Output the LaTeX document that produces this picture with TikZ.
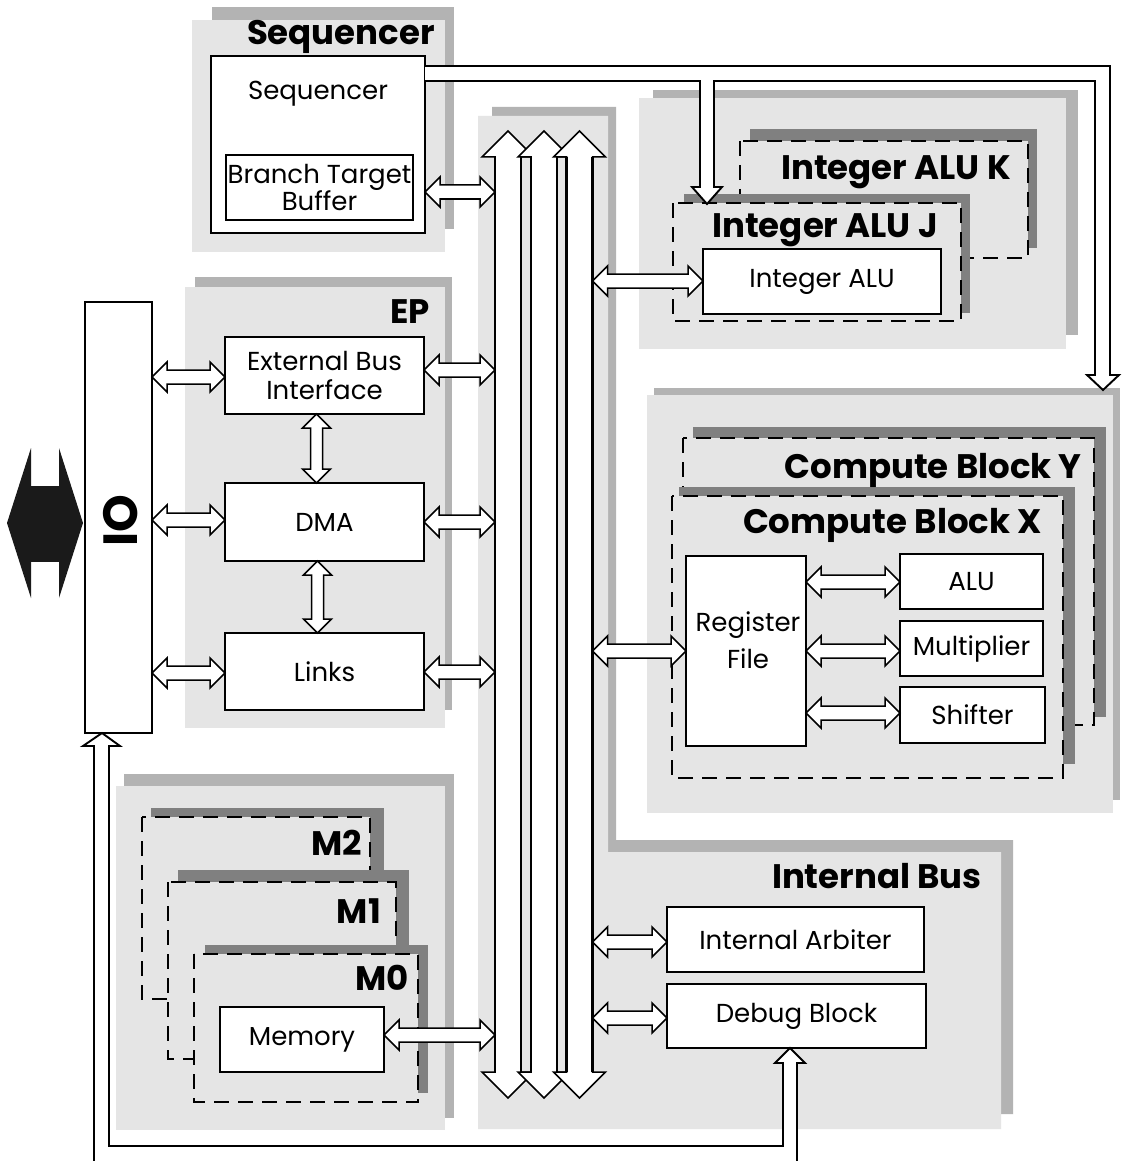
\documentclass[tikz,border=0pt]{standalone}
\usepackage{fontspec}
\setmainfont{Poppins}
\usetikzlibrary{calc}
\definecolor{lg}{RGB}{229,229,229}
\definecolor{mg}{RGB}{179,179,179}
\definecolor{dg}{RGB}{128,128,128}
\definecolor{blk}{RGB}{26,26,26}
\newcommand\fnorm{\fontsize{26}{29}\selectfont}
\newcommand\fhead{\fontsize{34}{36}\selectfont\bfseries}
\newcommand\fio{\fontsize{48}{50}\selectfont\bfseries}
\tikzset{
  panel/.style={fill=lg},
  pshadow/.style={fill=mg},
  dshadow/.style={fill=dg},
  box/.style={draw=black, line width=2pt, fill=white, inner sep=0pt, outer sep=0pt, font=\fnorm, align=center},
  dbox/.style={draw=black, fill=lg, line width=2.2pt, dash pattern=on 15pt off 9pt},
  title/.style={font=\fhead, anchor=base east, inner sep=0pt},
  lbl/.style={font=\fnorm, align=center, inner sep=0pt},
  hollow/.style={draw=black, fill=white, line width=1.5pt, line join=miter},
  pipe/.style={draw=black, fill=white, line width=1.9pt, line join=miter},
}
\newcommand\bx[7][]{\node[box,anchor=north west,minimum width={(#5-#3)*1pt},minimum height={(#6-#4)*1pt},#1] (#2) at (#3,#4) {#7};}
\newcommand\hdarrow[3]{\draw[hollow] let \p1=#1, \p2=#2 in
  (\x1,-#3pt) -- (\x1+15pt,-#3pt+15pt) -- (\x1+15pt,-#3pt+7pt) -- (\x2-15pt,-#3pt+7pt) -- (\x2-15pt,-#3pt+15pt) -- (\x2,-#3pt) -- (\x2-15pt,-#3pt-15pt) -- (\x2-15pt,-#3pt-7pt) -- (\x1+15pt,-#3pt-7pt) -- (\x1+15pt,-#3pt-15pt) -- cycle;}
\newcommand\vdarrow[2]{\draw[hollow] let \p1=#1, \p2=#2 in
  (\x1,\y1) -- (\x1+14pt,\y1-14pt) -- (\x1+6pt,\y1-14pt) -- (\x1+6pt,\y2+14pt) -- (\x1+14pt,\y2+14pt) -- (\x1,\y2) -- (\x1-14pt,\y2+14pt) -- (\x1-6pt,\y2+14pt) -- (\x1-6pt,\y1-14pt) -- (\x1-14pt,\y1-14pt) -- cycle;}
\newcommand\busarrow[1]{%
  \draw[hollow] (#1,131) -- (#1+26,157) -- (#1+13,157) -- (#1+13,1072) -- (#1+26,1072) -- (#1,1098) -- (#1-26,1072) -- (#1-13,1072) -- (#1-13,157) -- (#1-26,157) -- cycle;
  \draw[line width=2.2pt] (#1-13,157) -- (#1-13,1072) (#1+13,157) -- (#1+13,1072);}
\begin{document}
\begin{tikzpicture}[x=1pt,y=-1pt]
\useasboundingbox[fill=white] (0,0) rectangle (1121,1161);
% ---------- panels
\fill[pshadow] (212,7) rectangle (454,229);
\fill[panel] (192,20) rectangle (445,252);
\fill[pshadow] (195,277) rectangle (452,710);
\fill[panel] (185,287) rectangle (445,728);
\fill[pshadow] (124,774) rectangle (454,1118);
\fill[panel] (116,786) rectangle (445,1130);
\fill[pshadow] (653,90) rectangle (1078,335);
\fill[panel] (639,98) rectangle (1066,349);
\fill[pshadow] (654,388) rectangle (1120,800);
\fill[panel] (647,395) rectangle (1113,813);
\fill[pshadow] (492,107) -- (616,107) -- (616,840) -- (1013,840) -- (1013,1114) -- (492,1114) -- cycle;
\fill[panel] (478,116) -- (608,116) -- (608,852) -- (1001,852) -- (1001,1129) -- (478,1129) -- cycle;
% ---------- stacked dashed blocks
\fill[dshadow] (750,129) rectangle (1037,248);
\draw[dbox] (740,141) rectangle (1028,258);
\fill[dshadow] (684,194) rectangle (970,313);
\draw[dbox] (673,203) rectangle (961,321);
\fill[dshadow] (693,427) rectangle (1106,717);
\draw[dbox] (683,438) rectangle (1094,725);
\fill[dshadow] (679,487) rectangle (1075,764);
\draw[dbox] (672,496) rectangle (1063,778);
\fill[dshadow] (151,808) rectangle (384,990);
\draw[dbox] (142,817) rectangle (370,999);
\fill[dshadow] (178,870) rectangle (409,1050);
\draw[dbox] (168,882) rectangle (396,1059);
\fill[dshadow] (205,945) rectangle (428,1093);
\draw[dbox] (194,954) rectangle (418,1102);
% ---------- titles
\node[title] (tseq) at (435,45) {Sequencer};
\node[title] (tep) at (430,323) {EP};
\node[title] (tk) at (1011,180) {Integer ALU K};
\node[title] (tj) at (938,237) {Integer ALU J};
\node[title] (ty) at (1082,478) {Compute Block Y};
\node[title] (tx) at (1042,533) {Compute Block X};
\node[title] (tib) at (982,888) {Internal Bus};
\node[title] (tm2) at (362,855) {M2};
\node[title] (tm1) at (381,923) {M1};
\node[title] (tm0) at (409,990) {M0};
% ---------- boxes
\bx{seq}{211}{56}{425}{233}{}
\node[lbl] (seqlbl) at (318,94) {Sequencer};
\bx[font=\fontsize{26}{27}\selectfont]{btb}{226}{155}{413}{220}{Branch Target\\Buffer}
\bx{io}{85}{302}{152}{733}{}
\node[font=\fio, rotate=90, inner sep=0pt] (iolbl) at (121,521) {IO};
\bx{ebi}{225}{337}{424}{414}{External Bus\\Interface}
\bx{dma}{225}{483}{424}{561}{DMA}
\bx{links}{225}{633}{424}{710}{Links}
\bx{mem}{220}{1007}{384}{1072}{Memory}
\bx{ialu}{703}{249}{941}{314}{Integer ALU}
\bx{rf}{686}{556}{806}{746}{}
\node[lbl] (rflbl) at (748,640) {Register\\[8pt]File};
\bx{alu}{900}{554}{1043}{609}{ALU}
\bx{mult}{900}{621}{1043}{676}{Multiplier}
\bx{shift}{900}{687}{1045}{743}{Shifter}
\bx{arb}{667}{907}{924}{972}{Internal Arbiter}
\bx{dbg}{667}{984}{926}{1048}{Debug Block}
% ---------- internal bus arrows
\busarrow{508}
\busarrow{544}
\busarrow{579.5}
\coordinate (busL) at (495,600);
\coordinate (busR) at (592.5,600);
% ---------- connectors
\hdarrow{(seq.east)}{(busL)}{192}
\hdarrow{(ebi.east)}{(busL)}{370}
\hdarrow{(dma.east)}{(busL)}{522}
\hdarrow{(links.east)}{(busL)}{672}
\hdarrow{(mem.east)}{(busL)}{1035}
\hdarrow{(io.east)}{(ebi.west)}{377}
\hdarrow{(io.east)}{(dma.west)}{520}
\hdarrow{(io.east)}{(links.west)}{673}
\vdarrow{($(ebi.south)+(-8,0)$)}{(dma.north)}
\vdarrow{($(dma.south)+(-7,0)$)}{(links.north)}
\hdarrow{(busR)}{(ialu.west)}{281}
\hdarrow{(busR)}{(rf.west)}{651}
\hdarrow{(busR)}{(arb.west)}{942}
\hdarrow{(busR)}{(dbg.west)}{1018}
\hdarrow{(rf.east)}{(alu.west)}{582}
\hdarrow{(rf.east)}{(mult.west)}{651}
\hdarrow{(rf.east)}{(shift.west)}{713}
% sequencer feed to Integer ALU J and compute blocks
\coordinate (jtip) at (707,204);
\coordinate (ctip) at (1103,390);
\draw[pipe] let \p1=(seq.east), \p2=(jtip), \p3=(ctip) in
  (\x1,-66pt) -- (\x3+7pt,-66pt) -- (\x3+7pt,\y3+15pt) -- (\x3+16pt,\y3+15pt) -- (\x3,\y3) -- (\x3-16pt,\y3+15pt) -- (\x3-8pt,\y3+15pt) -- (\x3-8pt,-81pt) -- (\x2+7pt,-81pt) -- (\x2+7pt,\y2+17pt) -- (\x2+15pt,\y2+17pt) -- (\x2,\y2) -- (\x2-15pt,\y2+17pt) -- (\x2-7pt,\y2+17pt) -- (\x2-7pt,-81pt) -- (\x1,-81pt);
% external feed into IO and Debug Block
\coordinate (iotip) at ($(io.south west)+(17,0)$);
\coordinate (dtip) at ($(dbg.south)+(-6.5,0)$);
\draw[pipe] let \p1=(iotip), \p2=(dtip) in
  (\x1-8pt,-1161pt) -- (\x1-8pt,\y1-13pt) -- (\x1-19pt,\y1-13pt) -- (\x1,\y1) -- (\x1+18pt,\y1-13pt) -- (\x1+7pt,\y1-13pt) -- (\x1+7pt,-1146pt) -- (\x2-7pt,-1146pt) -- (\x2-7pt,\y2-15pt) -- (\x2-15pt,\y2-15pt) -- (\x2,\y2) -- (\x2+15pt,\y2-15pt) -- (\x2+7pt,\y2-15pt) -- (\x2+7pt,-1161pt);
% external black double arrow
\coordinate (ext) at (7,523);
\fill[blk] let \p1=(io.west) in (ext) -- (31,448) -- (31,486) -- (59,486) -- (59,448) -- (\x1-2pt,-523pt) -- (59,598) -- (59,561) -- (31,561) -- (31,598) -- cycle;
\draw[blk, fill=blk, line width=0.8pt] (31,486) rectangle (65,561);
\end{tikzpicture}
\end{document}
